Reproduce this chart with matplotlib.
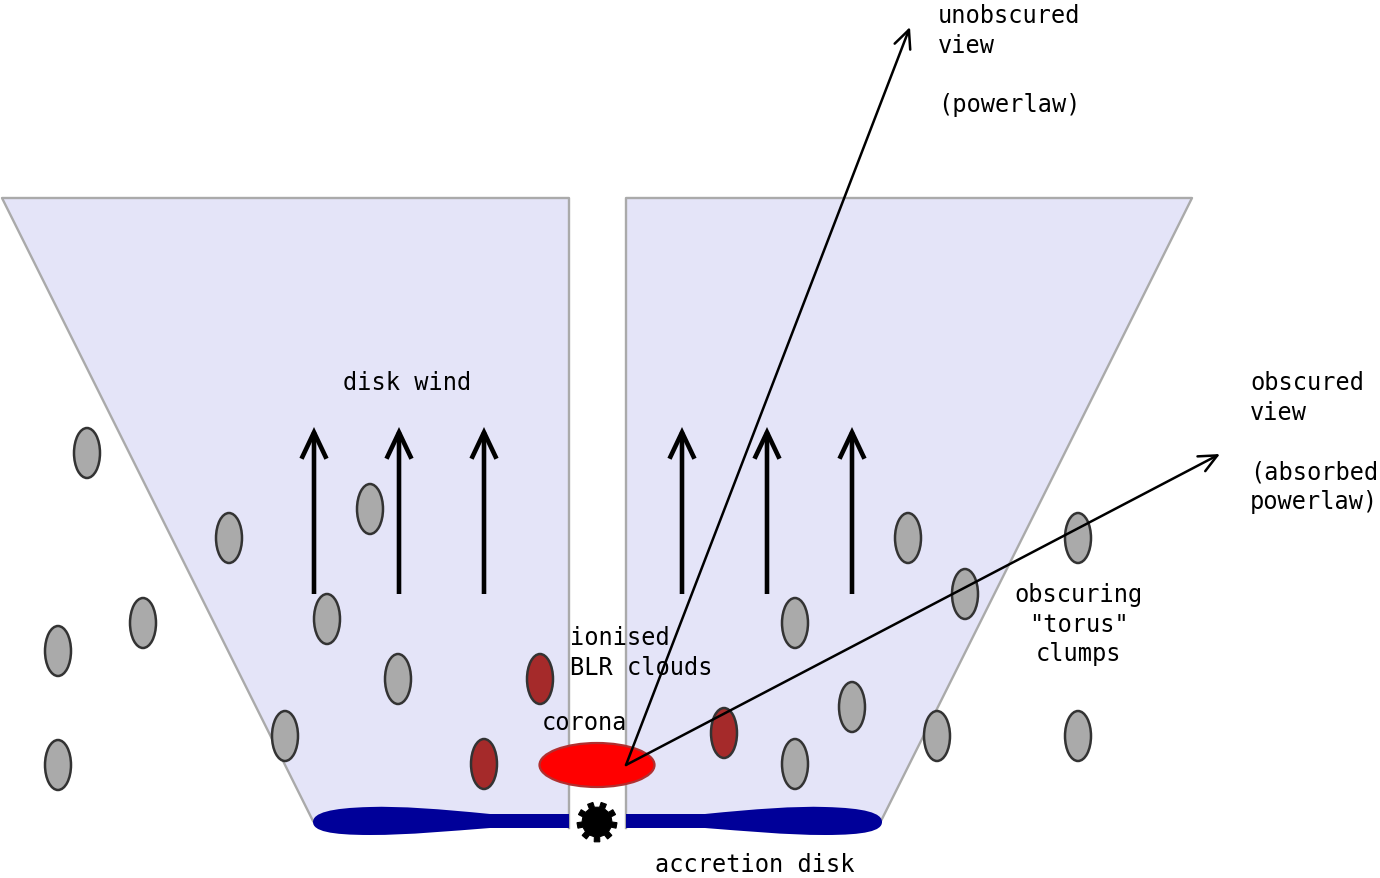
import numpy as np
import matplotlib
matplotlib.use("Agg")
import matplotlib.pyplot as plt
from matplotlib.patches import Polygon, Ellipse, PathPatch, FancyArrowPatch
from matplotlib.path import Path

# picture is laid out in pixel units (x to the right, y downwards)
W, H = 1380, 879

wind_fill = "#e4e4f8"
wind_edge = "#aaaaaa"
disk_col = "#000099"
grey_cloud = "#aaaaaa"
red_cloud = "#a52a2a"
cloud_edge = "#333333"

# wind cones (left and right)
left_cone = [(2, 199), (569, 199), (569, 829), (313, 822)]
right_cone = [(626, 199), (1192, 199), (881, 822), (626, 829)]

# clouds: centre x, centre y
grey_x = [87, 229, 370, 143, 58, 327, 398, 285, 58, 795, 908, 965, 1078, 852, 937, 795, 1078]
grey_y = [454, 539, 510, 624, 652, 620, 680, 737, 766, 624, 539, 595, 539, 708, 737, 765, 737]
red_x = [540, 484, 724]
red_y = [680, 765, 734]
cloud_w, cloud_h = 26, 50

# wind arrows
wind_x = [314, 399, 484, 682, 767, 852]
wind_y0, wind_y1 = 595, 428

# corona and the two lines of sight
corona_xy = (597, 766)
corona_w, corona_h = 115, 44
sight_from = (626, 766)
sight_to = [(910, 28), (1220, 455)]

# black hole
bh_xy = (597, 823)

# labels: x, first baseline, lines, alignment
labels = [
    (938, 23, ["unobscured", "view", "", "(powerlaw)"], "left"),
    (1250, 390, ["obscured", "view", "", "(absorbed", "powerlaw)"], "left"),
    (343, 390, ["disk wind"], "left"),
    (570, 645, ["ionised", "BLR clouds"], "left"),
    (542, 730, ["corona"], "left"),
    (1079, 602, ["obscuring", "\"torus\"", "clumps"], "center"),
    (655, 872, ["accretion disk"], "left"),
]
line_step = 29.7

fig = plt.figure(figsize=(W / 100, H / 100), dpi=100)
ax = fig.add_axes([0, 0, 1, 1])
ax.set_xlim(0, W)
ax.set_ylim(H, 0)
ax.axis("off")

# cones
for cone in (left_cone, right_cone):
    ax.add_patch(Polygon(cone, closed=True, facecolor=wind_fill, edgecolor="none", zorder=1))
ax.plot([313, 2, 569, 569], [822, 199, 199, 829], color=wind_edge, lw=1.7, zorder=2)
ax.plot([626, 626, 1192, 881], [829, 199, 199, 822], color=wind_edge, lw=1.7, zorder=2)

# accretion disk (left half, right half mirrored)
disk_pts = [(569, 815), (490, 815), (440, 810), (400, 807), (370, 808),
            (330, 809), (313, 814), (313, 823),
            (313, 832), (330, 836), (370, 836),
            (410, 836), (450, 832), (490, 829),
            (569, 829), (569, 815)]
disk_codes = [Path.MOVETO, Path.LINETO, Path.CURVE4, Path.CURVE4, Path.CURVE4,
              Path.CURVE4, Path.CURVE4, Path.CURVE4,
              Path.CURVE4, Path.CURVE4, Path.CURVE4,
              Path.CURVE4, Path.CURVE4, Path.CURVE4,
              Path.LINETO, Path.CLOSEPOLY]
for mirror in (False, True):
    pts = [((1195 - x) if mirror else x, y) for x, y in disk_pts]
    ax.add_patch(PathPatch(Path(pts, disk_codes), facecolor=disk_col, edgecolor="none", zorder=3))

# black hole as a small gear
n_teeth = 9
step = 2 * np.pi / n_teeth
ang = []
rad = []
for k in range(n_teeth):
    a0 = step * k
    ang += [a0, a0 + 0.05 * step, a0 + 0.45 * step, a0 + 0.5 * step]
    rad += [15, 20, 20, 15]
ang = np.array(ang)
rad = np.array(rad)
gear = np.column_stack([bh_xy[0] + rad * np.cos(ang), bh_xy[1] + rad * np.sin(ang)])
ax.add_patch(Polygon(gear, closed=True, facecolor="black", edgecolor="black", lw=0.8, zorder=4))

# wind arrows
for x in wind_x:
    ax.add_patch(FancyArrowPatch((x, wind_y0), (x, wind_y1),
                                 arrowstyle="->,head_length=19,head_width=9",
                                 mutation_scale=1, lw=3.3, color="black",
                                 capstyle="butt", joinstyle="miter",
                                 shrinkA=0, shrinkB=0, zorder=5))

# clouds
for x, y in zip(grey_x, grey_y):
    ax.add_patch(Ellipse((x, y), cloud_w, cloud_h, facecolor=grey_cloud,
                         edgecolor=cloud_edge, lw=1.8, zorder=6))
for x, y in zip(red_x, red_y):
    ax.add_patch(Ellipse((x, y), cloud_w, cloud_h, facecolor=red_cloud,
                         edgecolor=cloud_edge, lw=1.8, zorder=6))

# corona
ax.add_patch(Ellipse(corona_xy, corona_w, corona_h, facecolor="#ff0000",
                     edgecolor="#b03030", lw=1.6, zorder=7))

# lines of sight
for tip in sight_to:
    ax.add_patch(FancyArrowPatch(sight_from, tip,
                                 arrowstyle="->,head_length=13,head_width=6",
                                 mutation_scale=1, lw=1.8, color="black",
                                 shrinkA=0, shrinkB=0, zorder=8))

# text
for x, y0, lines, ha in labels:
    for i, s in enumerate(lines):
        if s:
            ax.text(x, y0 + i * line_step, s, family="DejaVu Sans Mono", fontsize=17,
                    ha=ha, va="baseline", color="black", zorder=9)

fig.savefig("out.png", dpi=100)
